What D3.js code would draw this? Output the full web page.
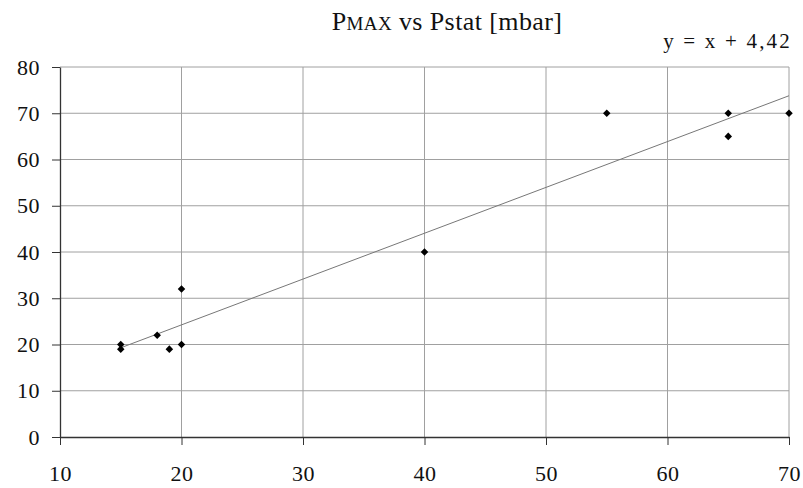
<!DOCTYPE html>
<html>
<head>
<meta charset="utf-8">
<script src="https://cdn.jsdelivr.net/npm/d3@7"></script>
<style>
  body { margin: 0; background: #fff; }
  svg text { font-family: "Times New Roman", "Liberation Serif", Tinos, "DejaVu Serif", serif; fill: #111; }
</style>
</head>
<body>
<div id="chart"></div>
<script>
// Pstat (x) vs Pmax (y), mbar
const pstat = [15, 15, 18, 19, 20, 20, 40, 55, 65, 65, 70];
const pmax  = [20, 19, 22, 19, 20, 32, 40, 70, 70, 65, 70];
const xTicks = [10, 20, 30, 40, 50, 60, 70];
const yTicks = [0, 10, 20, 30, 40, 50, 60, 70, 80];
const equationLabel = "y = x + 4,42";
const serif = "'Times New Roman', 'Liberation Serif', Tinos, 'DejaVu Serif', serif";

const margin = { top: 67, right: 14, bottom: 51, left: 60 };
const width = 803 - margin.left - margin.right;
const height = 488 - margin.top - margin.bottom;

const svg = d3.select("#chart").append("svg")
    .attr("width", 803)
    .attr("height", 488)
    .attr("font-family", serif);

const g = svg.append("g")
    .attr("transform", "translate(" + margin.left + "," + margin.top + ")");

const x = d3.scaleLinear().domain([10, 70]).range([0, width]);
const y = d3.scaleLinear().domain([0, 80]).range([height, 0]);

// gridlines
g.append("g").selectAll("line")
    .data(xTicks.slice(1))
    .enter().append("line")
    .attr("x1", d => x(d)).attr("x2", d => x(d))
    .attr("y1", 0).attr("y2", height)
    .attr("stroke", "#a0a0a0").attr("stroke-width", 1);

g.append("g").selectAll("line")
    .data(yTicks.slice(1))
    .enter().append("line")
    .attr("x1", 0).attr("x2", width)
    .attr("y1", d => y(d)).attr("y2", d => y(d))
    .attr("stroke", "#a0a0a0").attr("stroke-width", 1);

// axes
const xAxis = g.append("g")
    .attr("transform", "translate(0," + height + ")")
    .call(d3.axisBottom(x).tickValues(xTicks).tickSize(8).tickPadding(20).tickSizeOuter(0));
const yAxis = g.append("g")
    .call(d3.axisLeft(y).tickValues(yTicks).tickSize(8).tickPadding(12).tickSizeOuter(0));

[xAxis, yAxis].forEach(a => {
    a.attr("font-family", serif);
    a.select(".domain").attr("stroke", "#333").attr("stroke-width", 1.3);
    a.selectAll(".tick line").attr("stroke", "#333");
    a.selectAll(".tick text")
        .style("font-family", serif)
        .style("font-size", "22px")
        .style("letter-spacing", "0.5px")
        .attr("fill", "#111");
});

// least squares trend line
const mx = d3.mean(pstat), my = d3.mean(pmax);
const slope = d3.sum(pstat, (v, i) => (v - mx) * (pmax[i] - my)) /
              d3.sum(pstat, v => (v - mx) * (v - mx));
const intercept = my - slope * mx;
const xr = d3.extent(pstat);

g.append("line")
    .attr("x1", x(xr[0])).attr("y1", y(slope * xr[0] + intercept))
    .attr("x2", x(xr[1])).attr("y2", y(slope * xr[1] + intercept))
    .attr("stroke", "#777").attr("stroke-width", 1);

// points (small diamonds)
g.selectAll(".pt")
    .data(pstat.map((v, i) => [v, pmax[i]]))
    .enter().append("path")
    .attr("class", "pt")
    .attr("d", d3.symbol().type(d3.symbolDiamond2).size(36))
    .attr("transform", d => "translate(" + x(d[0]) + "," + y(d[1]) + ")")
    .attr("fill", "#000");

// title
const title = svg.append("text")
    .attr("x", 447).attr("y", 30)
    .attr("text-anchor", "middle")
    .style("font-size", "26px")
    .style("letter-spacing", "0.4px");
title.append("tspan").text("P");
title.append("tspan").style("font-size", "19px").text("MAX");
title.append("tspan").text(" vs Pstat [mbar]");

// equation
svg.append("text")
    .attr("x", 792).attr("y", 48)
    .attr("text-anchor", "end")
    .style("font-size", "21px")
    .style("letter-spacing", "2.2px")
    .text(equationLabel);
</script>
</body>
</html>
